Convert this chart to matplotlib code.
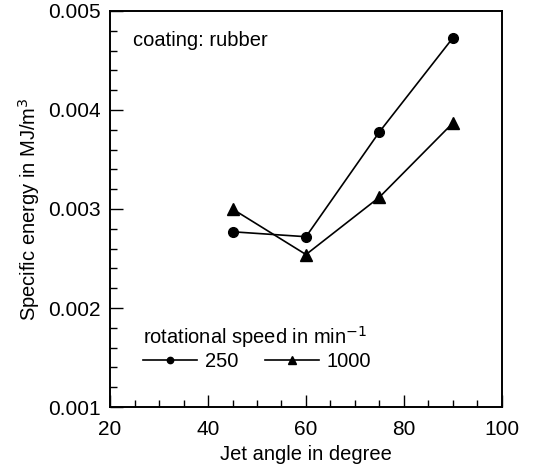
import matplotlib
matplotlib.use("Agg")
import matplotlib.pyplot as plt
from matplotlib.ticker import MultipleLocator, FormatStrFormatter

plt.rcParams['font.family'] = ['Liberation Sans', 'DejaVu Sans']

# jet angle in degree
angles = [45, 60, 75, 90]
# specific energy in MJ/m^3 for each rotational speed
energy_250 = [0.00277, 0.00272, 0.00378, 0.00473]
energy_1000 = [0.00300, 0.00254, 0.00312, 0.00387]
speed_labels = ["250", "1000"]

fig = plt.figure(figsize=(5.33, 4.73), dpi=100)
ax = fig.add_axes([110 / 533, 1 - 407 / 473, 392 / 533, 396 / 473])

ax.plot(angles, energy_250, color="black", lw=1.2, marker="o", ms=7,
        label=speed_labels[0])
ax.plot(angles, energy_1000, color="black", lw=1.2, marker="^", ms=8,
        label=speed_labels[1])

ax.set_xlim(20, 100)
ax.set_ylim(0.001, 0.005)
ax.xaxis.set_major_locator(MultipleLocator(20))
ax.xaxis.set_minor_locator(MultipleLocator(5))
ax.yaxis.set_major_locator(MultipleLocator(0.001))
ax.yaxis.set_minor_locator(MultipleLocator(0.0002))
ax.yaxis.set_major_formatter(FormatStrFormatter("%.3f"))
ax.tick_params(which="both", direction="in", top=False, right=False,
               labelsize=15, width=1.0)
ax.tick_params(which="major", length=9)
ax.tick_params(which="minor", length=5)
ax.tick_params(axis="x", which="major", pad=9)
ax.tick_params(axis="y", which="major", pad=7)
for s in ax.spines.values():
    s.set_linewidth(1.4)

ax.set_xlabel("Jet angle in degree", fontsize=14.5, labelpad=5)
ax.set_ylabel("Specific energy in MJ/m$^3$", fontsize=14.5, labelpad=4)

ax.text(0.058, 0.925, "coating: rubber", transform=ax.transAxes,
        fontsize=14.5, va="center", ha="left")

leg = ax.legend(title="rotational speed in min$^{-1}$", ncol=2, frameon=False,
                loc="lower left", bbox_to_anchor=(0.083, 0.09),
                fontsize=14.5, title_fontsize=14.5, markerscale=0.65,
                handlelength=2.7, columnspacing=1.3, handletextpad=0.4,
                borderaxespad=0, borderpad=0, labelspacing=0.1)
leg._legend_box.align = "left"

fig.savefig("out.png", dpi=100)
